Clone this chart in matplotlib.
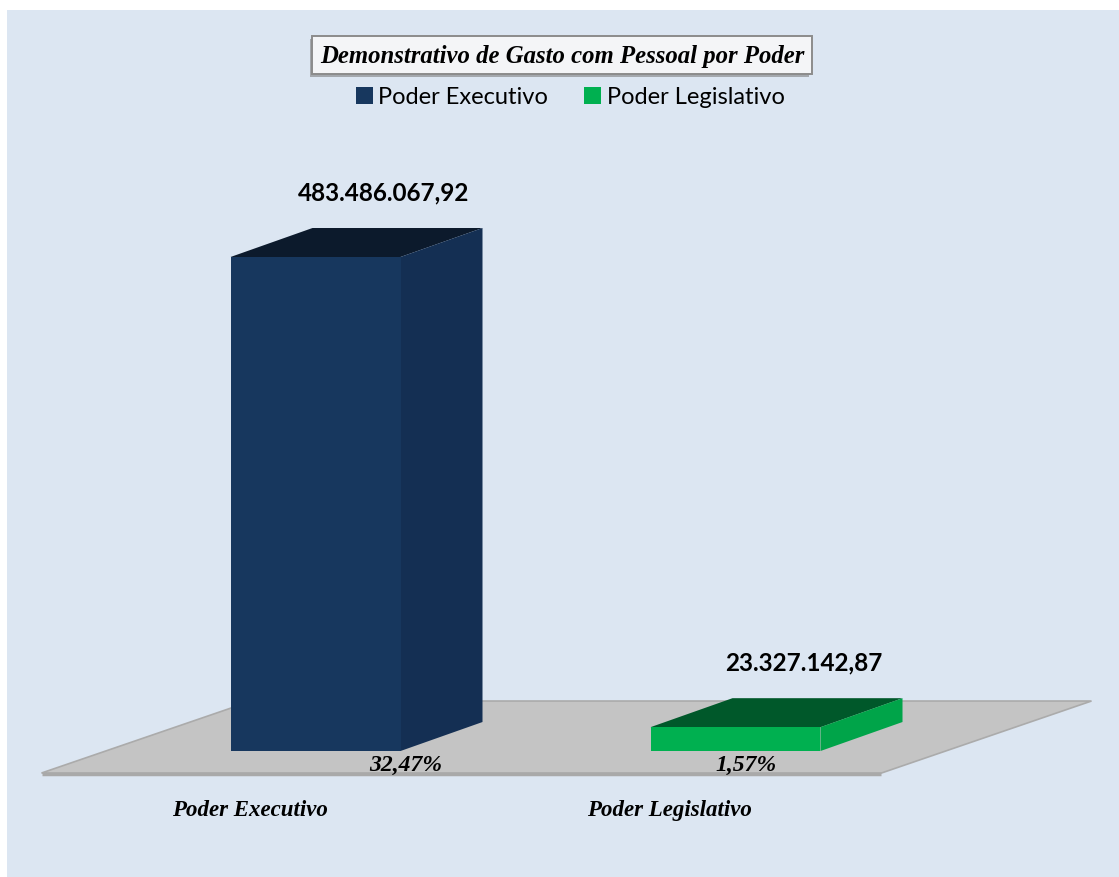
import matplotlib.pyplot as plt
import matplotlib.patheffects as pe
from matplotlib.patches import Polygon, Rectangle, Patch

# data
categories = ['Poder Executivo', 'Poder Legislativo']
values = [483486067.92, 23327142.87]
value_labels = ['483.486.067,92', '23.327.142,87']
percent_labels = ['32,47%', '1,57%']
title = 'Demonstrativo de Gasto com Pessoal por Poder'

front_colors = ['#17375e', '#00b050']
side_colors = ['#142f53', '#00a449']
top_colors = ['#0c1a2c', '#00582a']

W, H = 1119, 878
fig = plt.figure(figsize=(W / 100, H / 100), dpi=100)
fig.patch.set_facecolor('white')
fig.patches.append(Rectangle((7 / W, 0), 1, 1 - 11 / H, transform=fig.transFigure,
                             facecolor='#dce6f2', edgecolor='none', zorder=-1))

ax = fig.add_axes([0, 0, 1, 1])
ax.set_zorder(1)
ax.set_facecolor('none')
ax.axis('off')
# category axis, one unit per category; value axis hidden like in the original
ax.set_xlim(-0.7512, 1.9131)
ax.set_ylim(-1.233e8, 7.36e8)


def off(dx, dy):
    # pixel offset -> data offset (used for the fake 3D depth)
    inv = ax.transData.inverted()
    (x0, y0), (x1, y1) = inv.transform([(0, 0), (dx, dy)])
    return x1 - x0, y1 - y0


serif = dict(family='Liberation Serif', weight='bold', style='italic', color='black')
sans = 'Lato'

# floor
fxf, fyf = off(-64, -22)
fxb, fyb = off(146, 50)
floor = [(-0.5 + fxf, fyf), (1.5 + fxf, fyf), (1.5 + fxb, fyb), (-0.5 + fxb, fyb)]
ax.add_patch(Polygon(floor, closed=True, facecolor='#c4c4c4', edgecolor='#ababab',
                     lw=1.2, zorder=1))
_, t = off(0, -2)
ax.plot([-0.5 + fxf, 1.5 + fxf], [fyf + t / 2, fyf + t / 2], color='#a9a9a9', lw=2.5,
        zorder=1.5, solid_capstyle='butt')

# bars
bar_w = 170 / 420
bdx, bdy = off(82, 29)
for i, v in enumerate(values):
    x0, x1 = i - bar_w / 2, i + bar_w / 2
    ax.add_patch(Polygon([(x0, v), (x1, v), (x1 + bdx, v + bdy), (x0 + bdx, v + bdy)],
                         facecolor=top_colors[i], edgecolor='none', zorder=2))
    ax.add_patch(Polygon([(x1, 0), (x1 + bdx, bdy), (x1 + bdx, v + bdy), (x1, v)],
                         facecolor=side_colors[i], edgecolor='none', zorder=2))
    ax.add_patch(Rectangle((x0, 0), bar_w, v, facecolor=front_colors[i],
                           edgecolor='none', zorder=3))

# value labels above the bars
lx, ly = off(27, 36)
for i, v in enumerate(values):
    ax.text(i + bdx / 2 + lx, v + bdy + ly, value_labels[i], ha='center', va='center',
            fontsize=17.5, fontweight='bold', family=sans, zorder=5)

# percentages on the floor
pct_dx = [90, 10]
for i, p in enumerate(percent_labels):
    dx, dy = off(pct_dx[i], -13)
    ax.text(i + dx, dy, p, ha='center', va='center', fontsize=17, zorder=5, **serif)

# category labels
cx, cy = off(-66, -58)
for i, c in enumerate(categories):
    ax.text(i + cx, cy, c, ha='center', va='center', fontsize=16.5, zorder=5, **serif)

# title box
tt = fig.text(562 / W, 1 - 56 / H, title, ha='center', va='center', fontsize=17.8,
              bbox=dict(boxstyle='square,pad=0.3', facecolor='#f4f5f7', edgecolor='#8c8c8c',
                        lw=1.4), **serif)
tt.get_bbox_patch().set_path_effects([pe.withSimplePatchShadow(offset=(-2, -2),
                                                                shadow_rgbFace='#7f7f7f',
                                                                alpha=0.6)])

# legend
handles = [Patch(facecolor=c, edgecolor='none') for c in front_colors]
fig.legend(handles, categories, loc='center', bbox_to_anchor=(570 / W, 1 - 98 / H),
           ncol=2, frameon=False, prop=dict(family=sans, size=17),
           handlelength=0.72, handleheight=0.72, handletextpad=0.25, columnspacing=1.5)

fig.savefig('out.png', dpi=100)
